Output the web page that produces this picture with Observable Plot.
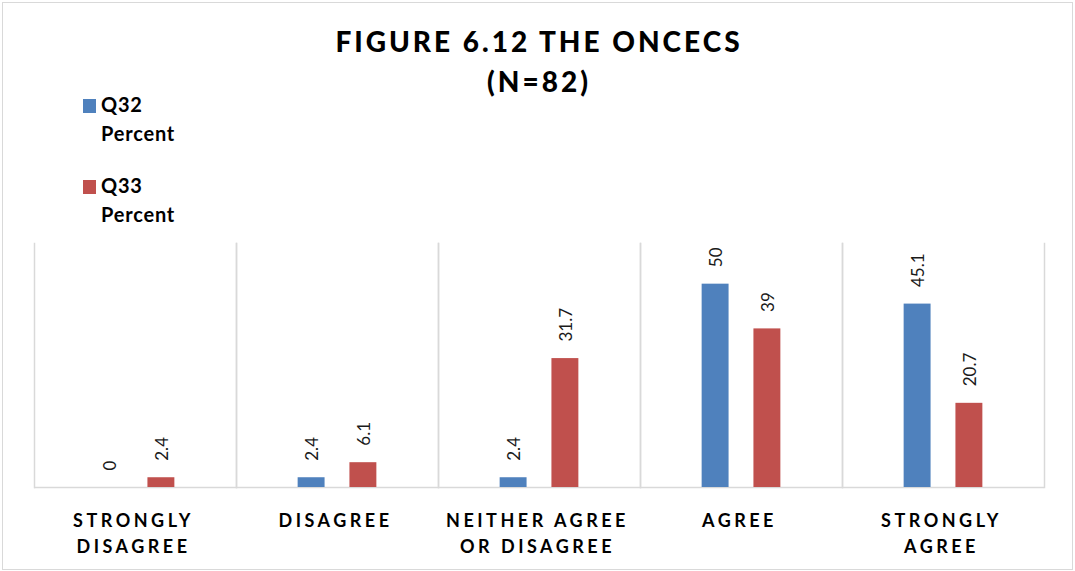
<!DOCTYPE html>
<html>
<head>
<meta charset="utf-8">
<script src="https://cdn.jsdelivr.net/npm/d3@7"></script>
<script src="https://cdn.jsdelivr.net/npm/@observablehq/plot@0.6"></script>
<style>
  html, body { margin: 0; padding: 0; background: #fff; }
  #figure { position: relative; width: 1075px; height: 571px; overflow: hidden; font-family: Lato, "Open Sans", sans-serif; }
  #border { position: absolute; left: 2px; top: 2px; width: 1071px; height: 568px; box-sizing: border-box; border: 1px solid #d9d9d9; }
  #title { position: absolute; left: 0; top: 21px; width: 1075px; text-align: center; font-size: 28px; font-weight: 900; line-height: 40px; letter-spacing: 3px; color: #000; padding-left: 3px; box-sizing: border-box; }
  .legend-item { position: absolute; left: 83px; }
  .legend-item .swatch { position: absolute; left: 0; width: 13px; height: 14px; }
  .legend-item .label { position: absolute; left: 18px; top: 0; width: 120px; font-size: 20px; font-weight: 700; line-height: 29px; letter-spacing: 0.8px; color: #000; white-space: pre; }
  #chart { position: absolute; left: 0; top: 230px; }
  #chart g[aria-label="fx-axis tick label"] { letter-spacing: 3.5px; }
</style>
</head>
<body>
<div id="figure">
  <div id="border"></div>
  <div id="title">FIGURE 6.12 THE ONCECS<br>(N=82)</div>
  <div id="legend"></div>
  <div id="chart"></div>
</div>
<script>
// Response categories along the bottom, and their two-line axis labels
const categories = ["Strongly Disagree", "Disagree", "Neither Agree or Disagree", "Agree", "Strongly Agree"];
const tickLabels = ["STRONGLY\nDISAGREE", "DISAGREE", "NEITHER AGREE\nOR DISAGREE", "AGREE", "STRONGLY\nAGREE"];

// The two question series and their colours
const series = ["Q32 Percent", "Q33 Percent"];
const seriesLabels = ["Q32\nPercent", "Q33\nPercent"];
const seriesColors = ["#4F81BD", "#C0504D"];

// Percent of respondents per category
const q32Percent = [0, 2.4, 2.4, 50, 45.1];
const q33Percent = [2.4, 6.1, 31.7, 39, 20.7];

const rows = categories.flatMap((category, i) => [
  {category, series: series[0], value: q32Percent[i]},
  {category, series: series[1], value: q33Percent[i]}
]);

// Legend, stacked vertically at the top left
const legend = document.getElementById("legend");
series.forEach((s, i) => {
  const item = document.createElement("div");
  item.className = "legend-item";
  item.style.top = (90 + i * 81) + "px";
  const swatch = document.createElement("div");
  swatch.className = "swatch";
  swatch.style.top = "9px";
  swatch.style.background = seriesColors[i];
  const label = document.createElement("div");
  label.className = "label";
  label.textContent = seriesLabels[i];
  item.append(swatch, label);
  legend.append(item);
});

const grid = {stroke: "#d9d9d9", strokeWidth: 1.5};

const chart = Plot.plot({
  width: 1075,
  height: 341,
  marginLeft: 32,
  marginRight: 29,
  marginTop: 13,
  marginBottom: 84,
  style: {fontFamily: "Lato, 'Open Sans', sans-serif", background: "transparent"},
  fx: {domain: categories, padding: 0, label: null},
  x: {domain: series, axis: null, paddingInner: 0.48, paddingOuter: 1.19, round: false},
  y: {domain: [0, 60], axis: null},
  color: {domain: series, range: seriesColors},
  marks: [
    Plot.frame({anchor: "left", ...grid}),
    Plot.frame({anchor: "right", ...grid}),
    Plot.ruleY([0], grid),
    Plot.barY(rows, {fx: "category", x: "series", y: "value", fill: "series"}),
    Plot.text(rows, {
      fx: "category", x: "series", y: "value",
      text: d => String(d.value),
      rotate: -90, textAnchor: "start", lineAnchor: "middle",
      dy: -17, dx: 1, fontSize: 17, fill: "#1a1a1a"
    }),
    Plot.axisFx({
      anchor: "bottom", label: null, tickSize: 0, tickPadding: 21, dx: -2,
      tickFormat: d => tickLabels[categories.indexOf(d)],
      fontSize: 18, fontWeight: 700, lineHeight: 1.45, fill: "#000"
    })
  ]
});

document.getElementById("chart").append(chart);
</script>
</body>
</html>
